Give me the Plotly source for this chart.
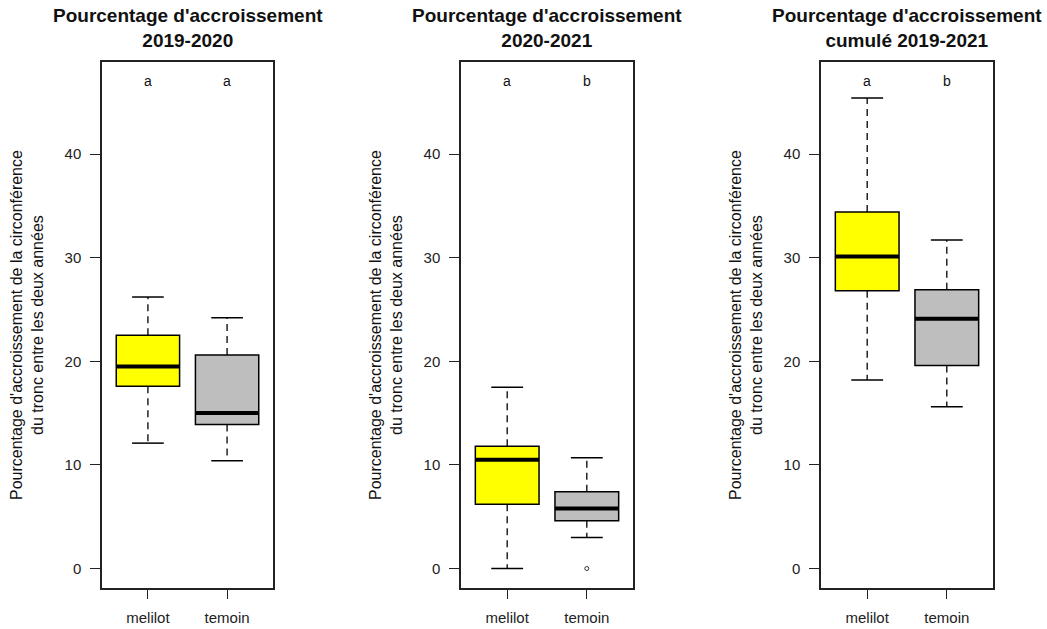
import plotly.graph_objects as go

# ---------------- data ----------------
categories = ["melilot", "temoin"]
titles = [
    "Pourcentage d'accroissement<br>2019-2020",
    "Pourcentage d'accroissement<br>2020-2021",
    "Pourcentage d'accroissement<br>cumulé 2019-2021",
]
lower_whisker = [[12.1, 10.4], [0.0, 3.0], [18.2, 15.6]]
q1 = [[17.6, 13.9], [6.2, 4.6], [26.8, 19.6]]
median = [[19.5, 15.0], [10.5, 5.8], [30.1, 24.1]]
q3 = [[22.5, 20.6], [11.8, 7.4], [34.4, 26.9]]
upper_whisker = [[26.2, 24.2], [17.5, 10.7], [45.4, 31.7]]
outliers = [[[], []], [[], [0.0]], [[], []]]
letters = [["a", "a"], ["a", "b"], ["a", "b"]]
letter_y = 47
y_ticks = [0, 10, 20, 30, 40]
y_label = "Pourcentage d'accroissement de la circonférence<br>du tronc entre les deux années"
fill_colors = ["#FFFF00", "#BEBEBE"]

# ---------------- layout geometry ----------------
W, H = 1047, 629
box_px = [(102, 273), (461, 633), (821, 993)]
top_px, bottom_px = 62, 588
FONT = "Liberation Sans, Arial, sans-serif"
box_w = 0.8
cap_w = 0.4
y_range = [-1.88, 48.88]
x_range = [0.42, 2.58]

fig = go.Figure()
annotations = []

for p in range(3):
    xa = "x" if p == 0 else f"x{p+1}"
    ya = "y" if p == 0 else f"y{p+1}"
    positions = [1, 2]
    for i, cat in enumerate(categories):
        xpos = positions[i]
        # box (fences set to box edges; dashed whiskers drawn separately)
        fig.add_trace(go.Box(
            x=[xpos], q1=[q1[p][i]], median=[median[p][i]], q3=[q3[p][i]],
            lowerfence=[q1[p][i]], upperfence=[q3[p][i]],
            width=box_w, whiskerwidth=0, fillcolor=fill_colors[i],
            line=dict(color="black", width=1.5), boxpoints=False,
            xaxis=xa, yaxis=ya, showlegend=False, hoverinfo="skip",
        ))
        # thick median
        fig.add_trace(go.Scatter(
            x=[xpos - box_w / 2, xpos + box_w / 2], y=[median[p][i], median[p][i]],
            mode="lines", line=dict(color="black", width=4),
            xaxis=xa, yaxis=ya, showlegend=False, hoverinfo="skip",
        ))
        # dashed whiskers
        for a, b in ((q3[p][i], upper_whisker[p][i]), (q1[p][i], lower_whisker[p][i])):
            fig.add_trace(go.Scatter(
                x=[xpos, xpos], y=[a, b], mode="lines",
                line=dict(color="black", width=1.3, dash="7px,5px"),
                xaxis=xa, yaxis=ya, showlegend=False, hoverinfo="skip",
            ))
        # caps
        for v in (upper_whisker[p][i], lower_whisker[p][i]):
            fig.add_trace(go.Scatter(
                x=[xpos - cap_w / 2, xpos + cap_w / 2], y=[v, v], mode="lines",
                line=dict(color="black", width=1.5),
                xaxis=xa, yaxis=ya, showlegend=False, hoverinfo="skip",
            ))
        # outliers
        if outliers[p][i]:
            fig.add_trace(go.Scatter(
                x=[xpos] * len(outliers[p][i]), y=outliers[p][i], mode="markers",
                marker=dict(symbol="circle-open", size=4, color="#333333",
                            line=dict(width=1)),
                xaxis=xa, yaxis=ya, showlegend=False, hoverinfo="skip",
            ))
        # significance letters
        annotations.append(dict(
            x=xpos, y=letter_y, xref=xa, yref=ya, text=letters[p][i],
            showarrow=False, font=dict(family=FONT, size=14, color="#111111"),
        ))

    l, r = box_px[p]
    dom_x = [l / W, r / W]
    dom_y = [1 - bottom_px / H, 1 - top_px / H]
    ax_common = dict(showline=True, mirror=True, linecolor="#222222", linewidth=1.5,
                     showgrid=False, zeroline=False, ticks="outside",
                     tickcolor="#222222", tickwidth=1.3,
                     tickfont=dict(family=FONT, size=15, color="#222222"))
    xkey = "xaxis" if p == 0 else f"xaxis{p+1}"
    ykey = "yaxis" if p == 0 else f"yaxis{p+1}"
    fig.update_layout({
        xkey: dict(domain=dom_x, range=x_range, tickvals=positions, ticktext=categories,
                   ticklen=9, ticklabelstandoff=6, anchor=ya, **ax_common),
        ykey: dict(domain=dom_y, range=y_range, tickvals=y_ticks,
                   ticktext=[str(t) for t in y_ticks],
                   ticklen=10, ticklabelstandoff=6, anchor=xa, **ax_common),
    })
    # panel title
    annotations.append(dict(
        x=(l + r) / 2 / W, y=1 - 28 / H, xref="paper", yref="paper",
        text="<b>" + titles[p] + "</b>", showarrow=False, xanchor="center", yanchor="middle",
        font=dict(family=FONT, size=19, color="#111111"),
    ))
    # y axis label
    annotations.append(dict(
        x=(l - 75) / W, y=1 - ((top_px + bottom_px) / 2) / H, xref="paper", yref="paper",
        text=y_label, showarrow=False, textangle=-90, xanchor="center", yanchor="middle",
        font=dict(family=FONT, size=16, color="#111111"),
    ))

fig.update_layout(
    width=W, height=H, margin=dict(l=0, r=0, t=0, b=0),
    paper_bgcolor="white", plot_bgcolor="white",
    annotations=annotations, boxmode="overlay",
)

fig.write_html("out.html", config={"displayModeBar": False},
               post_script="document.body.style.margin='0';document.body.style.overflow='hidden';")
